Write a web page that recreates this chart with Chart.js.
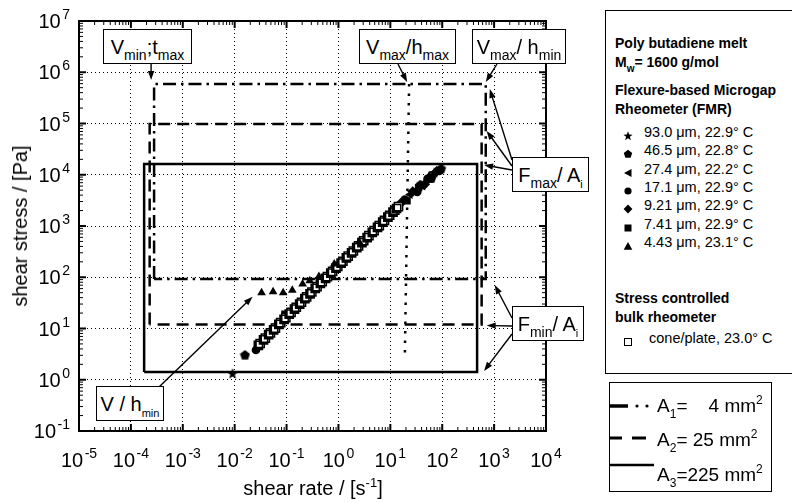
<!DOCTYPE html>
<html>
<head>
<meta charset="utf-8">
<script src="https://cdn.jsdelivr.net/npm/chart.js@4.4.1/dist/chart.umd.min.js"></script>
<style>
  body { margin: 0; background: #fff; }
  #wrap { position: relative; width: 792px; height: 503px; overflow: hidden;
          font-family: "Liberation Sans", Arial, Helvetica, sans-serif; color: #000; }
  #plot { position: absolute; left: 0; top: 0; }
  .abs { position: absolute; white-space: nowrap; line-height: 1; }
  .box { position: absolute; border: 1.5px solid #000; background: #fff; box-sizing: border-box;
         font-size: 20px; line-height: 1; white-space: nowrap; text-align: center; }
  .box .in { position: absolute; left: 0; right: 0; top: 7px; }
  .s { font-size: 14px; position: relative; top: 6px; }
  .ss { font-size: 11px; position: relative; top: 6px; }
  .sp { font-size: 12px; position: relative; top: -8px; }
  #leg1 { position: absolute; left: 605px; top: 10px; width: 210px; height: 364px;
          border: 1px solid #000; box-sizing: border-box; background: #fff; }
  #leg1 .h { font-weight: bold; font-size: 14px; }
  #leg1 .e { font-size: 14.5px; }
  #leg2 { position: absolute; left: 609px; top: 382px; width: 163px; height: 110px;
          border: 1.5px solid #000; box-sizing: border-box; background: #fff; }
  #leg2 .t { font-size: 19px; }
</style>
</head>
<body>
<div id="wrap">
  <canvas id="plot" width="792" height="503"></canvas>

  <!-- axis titles -->
  <div class="abs" style="left:20px; top:226px; font-size:20px; transform: translate(-50%,-50%) rotate(-90deg);">shear stress / [Pa]</div>
  <div class="abs" style="left:313px; top:488px; font-size:20px; transform: translate(-50%,-50%);">shear rate / [s<span class="sp" style="font-size:13px;top:-8px;">-1</span>]</div>

  <!-- operating-window labels -->
  <div class="box" style="left:103px; top:29px; width:89px; height:35px;"><div class="in">V<span class="s">min</span>;t<span class="s">max</span></div></div>
  <div class="box" style="left:359px; top:29px; width:97px; height:35px;"><div class="in">V<span class="s">max</span>/h<span class="s">max</span></div></div>
  <div class="box" style="left:472px; top:29px; width:94px; height:35px;"><div class="in">V<span class="s">max</span>/ h<span class="s">min</span></div></div>
  <div class="box" style="left:512px; top:157px; width:77px; height:35px;"><div class="in">F<span class="s">max</span>/ A<span class="ss">i</span></div></div>
  <div class="box" style="left:512px; top:306px; width:72px; height:35px;"><div class="in">F<span class="s">min</span>/ A<span class="ss">i</span></div></div>
  <div class="box" style="left:96px; top:386px; width:68px; height:35px;"><div class="in">V / h<span class="ss">min</span></div></div>

  <!-- sample legend -->
  <div id="leg1">
    <div class="abs h" style="left:9px; top:25px;">Poly butadiene melt</div>
    <div class="abs h" style="left:9px; top:44px;">M<span style="font-size:10px;position:relative;top:5px;">w</span>= 1600 g/mol</div>
    <div class="abs h" style="left:9px; top:72px;">Flexure-based Microgap</div>
    <div class="abs h" style="left:9px; top:91px;">Rheometer (FMR)</div>
    <div id="entries"></div>
    <div class="abs h" style="left:9px; top:280px;">Stress controlled</div>
    <div class="abs h" style="left:9px; top:299px;">bulk rheometer</div>
  </div>

  <!-- gap-area legend -->
  <div id="leg2">
    <svg class="abs" style="left:0; top:18px;" width="48" height="10">
      <line x1="0" y1="5" x2="18" y2="5" stroke="#000" stroke-width="3.5"/>
      <circle cx="27" cy="5" r="1.6" fill="#000"/><circle cx="37" cy="5" r="1.6" fill="#000"/>
    </svg>
    <div class="abs t" style="left:47px; top:13px;">A<span class="ss" style="font-size:12px;">1</span>=&nbsp;&nbsp;&nbsp; 4 mm<span class="sp">2</span></div>
    <svg class="abs" style="left:0; top:50px;" width="48" height="10">
      <line x1="0" y1="5" x2="12" y2="5" stroke="#000" stroke-width="3"/>
      <line x1="22" y1="5" x2="36" y2="5" stroke="#000" stroke-width="3"/>
    </svg>
    <div class="abs t" style="left:47px; top:47px;">A<span class="ss" style="font-size:12px;">2</span>= 25 mm<span class="sp">2</span></div>
    <svg class="abs" style="left:0; top:77px;" width="48" height="10">
      <line x1="0" y1="5" x2="44" y2="5" stroke="#000" stroke-width="2.5"/>
    </svg>
    <div class="abs t" style="left:47px; top:82px;">A<span class="ss" style="font-size:12px;">3</span>=225 mm<span class="sp">2</span></div>
  </div>
</div>

<script>
// ---------- axis decades ----------
const rateDecades = [-5, -4, -3, -2, -1, 0, 1, 2, 3, 4];
const stressDecades = [-1, 0, 1, 2, 3, 4, 5, 6, 7];

// ---------- operating windows for the three plate areas A1, A2, A3 ----------
const windowMinRate   = [2.8e-4, 2.3e-4, 1.8e-4];
const windowMaxRate   = [690, 575, 470];
const windowMinStress = [92, 12, 1.42];
const windowMaxStress = [5.9e5, 9.8e4, 1.62e4];

// V_max / h_max limit (dotted)
const vmaxLimitRate   = [23, 19];
const vmaxLimitStress = [5.9e5, 2.6];

// ---------- FMR measurements (gap, temperature) ----------
const rate93  = [0.0091, 70];
const stress93 = [1.3, 10800];
const rate46  = [0.0158, 38, 62, 95];
const stress46 = [3.0, 6300, 8600, 13000];
const rate27  = [24, 42, 72];
const stress27 = [4100, 6000, 11200];
const rate17  = [0.0257, 19, 33, 52, 88];
const stress17 = [3.8, 3300, 4600, 8300, 11800];
const rate9   = [0.10, 16, 27, 46, 78];
const stress9 = [17, 2800, 4700, 6500, 11600];
const rate7   = [0.069, 0.093, 15, 21, 35, 58];
const stress7 = [11.7, 19, 2400, 3100, 5600, 8200];
const rate4   = [0.033, 0.055, 0.086, 0.129, 0.204, 0.28, 0.42, 0.83, 2.5, 56];
const stress4 = [50, 52, 50, 56, 74, 85, 103, 181, 494, 9460];

// ---------- cone/plate, stress-controlled bulk rheometer ----------
const rateCP = [0.031, 0.039, 0.049, 0.061, 0.077, 0.097, 0.122, 0.154, 0.194, 0.244, 0.307, 0.387, 0.487, 0.613,
                0.772, 0.972, 1.22, 1.54, 1.94, 2.44, 3.07, 3.87, 4.87, 6.13, 7.72, 9.72, 12.2, 14.3];
const stressCP = [5.1, 6.5, 8.2, 10.2, 13.0, 16.3, 20.6, 26.0, 32.5, 41.4, 51.5, 65.8, 82.0, 103,
                  130, 163, 205, 258, 325, 409, 515, 646, 812, 1020, 1290, 1620, 2030, 2380];

const legendEntries = [
  ['star',     '93.0 μm, 22.9° C'],
  ['pentagon', '46.5 μm, 22.8° C'],
  ['ltri',     '27.4 μm, 22.2° C'],
  ['circle',   '17.1 μm, 22.9° C'],
  ['diamond',  '9.21 μm, 22.9° C'],
  ['square',   '7.41 μm, 22.9° C'],
  ['triangle', '4.43 μm, 23.1° C']
];

// ---------- marker images ----------
function polyCanvas(size, n, rOut, rIn, rot) {
  const c = document.createElement('canvas');
  c.width = c.height = size;
  const g = c.getContext('2d');
  const m = size / 2;
  g.fillStyle = '#000';
  g.beginPath();
  const k = rIn ? 2 * n : n;
  for (let i = 0; i < k; i++) {
    const r = rIn && i % 2 ? rIn : rOut;
    const a = rot + i * 2 * Math.PI / k;
    const px = m + r * Math.cos(a), py = m + r * Math.sin(a);
    i ? g.lineTo(px, py) : g.moveTo(px, py);
  }
  g.closePath();
  g.fill();
  return c;
}
const starImg = polyCanvas(12, 5, 5.8, 2.4, -Math.PI / 2);
const pentImg = polyCanvas(11, 5, 5.2, 0, -Math.PI / 2);

function pts(xs, ys) { return xs.map((x, i) => ({ x: x, y: ys[i] })); }
function windowPath(i) {
  return [
    { x: windowMinRate[i], y: windowMinStress[i] },
    { x: windowMinRate[i], y: windowMaxStress[i] },
    { x: windowMaxRate[i], y: windowMaxStress[i] },
    { x: windowMaxRate[i], y: windowMinStress[i] },
    { x: windowMinRate[i], y: windowMinStress[i] }
  ];
}
function filled(data, style, r, extra) {
  return Object.assign({ type: 'scatter', data: data, pointStyle: style, pointRadius: r,
    backgroundColor: '#000', borderColor: '#000', borderWidth: 0 }, extra || {});
}
function boundary(data, dash, width) {
  return { type: 'line', data: data, showLine: true, fill: false, pointRadius: 0, borderColor: '#000',
    borderWidth: width, borderDash: dash, tension: 0, borderCapStyle: 'butt', order: 10 };
}

const datasets = [
  Object.assign(filled(pts(rateCP, stressCP), 'rect', 5.8), { backgroundColor: '#fff', borderWidth: 1.5, order: 1 }),
  filled(pts(rate93, stress93), starImg, 6, { order: 2 }),
  filled(pts(rate46, stress46), pentImg, 6, { order: 2 }),
  filled(pts(rate27, stress27), 'triangle', 5, { rotation: -90, order: 2 }),
  filled(pts(rate17, stress17), 'circle', 4.3, { order: 2 }),
  filled(pts(rate9, stress9), 'rectRot', 5.4, { order: 2 }),
  filled(pts(rate7, stress7), 'rect', 5.2, { order: 2 }),
  filled(pts(rate4, stress4), 'triangle', 5, { order: 0 }),
  boundary(windowPath(0), [13, 5, 2.5, 5], 2.5),
  boundary(windowPath(1), [12, 7], 2.5),
  boundary(windowPath(2), [], 2.5),
  boundary(pts(vmaxLimitRate, vmaxLimitStress), [2.5, 7], 2.5)
];

// ---------- drawing helpers ----------
function arrow(ctx, x0, y0, x1, y1) {
  const a = Math.atan2(y1 - y0, x1 - x0), L = 9, W = 3.2;
  ctx.beginPath();
  ctx.moveTo(x0, y0);
  ctx.lineTo(x1 - 0.8 * L * Math.cos(a), y1 - 0.8 * L * Math.sin(a));
  ctx.stroke();
  ctx.beginPath();
  ctx.moveTo(x1, y1);
  ctx.lineTo(x1 - L * Math.cos(a) + W * Math.sin(a), y1 - L * Math.sin(a) - W * Math.cos(a));
  ctx.lineTo(x1 - L * Math.cos(a) - W * Math.sin(a), y1 - L * Math.sin(a) + W * Math.cos(a));
  ctx.closePath();
  ctx.fill();
}
function powerLabel(ctx, exp, x, y, align) {
  const big = '20px "Liberation Sans", Arial, sans-serif';
  const small = '14px "Liberation Sans", Arial, sans-serif';
  ctx.font = big;
  const w1 = ctx.measureText('10').width;
  ctx.font = small;
  const e = String(exp);
  const w2 = ctx.measureText(e).width;
  const total = w1 + 1.5 + w2;
  const x0 = align === 'right' ? x - total : x - total / 2;
  ctx.textAlign = 'left';
  ctx.textBaseline = 'alphabetic';
  ctx.font = big;
  ctx.fillText('10', x0, y);
  ctx.font = small;
  ctx.fillText(e, x0 + w1 + 1.5, y - 9);
}

// dark offset edge under the open cone/plate squares
const squareShadow = {
  id: 'squareShadow',
  beforeDatasetDraw(chart, args) {
    if (args.index !== 0) return;
    const ctx = chart.ctx;
    ctx.save();
    ctx.shadowColor = '#000';
    ctx.shadowOffsetX = -1.8;
    ctx.shadowOffsetY = 1.8;
    ctx.shadowBlur = 0;
  },
  afterDatasetDraw(chart, args) {
    if (args.index !== 0) return;
    chart.ctx.restore();
  }
};

const framePlugin = {
  id: 'frame',
  afterDraw(chart) {
    const { ctx, chartArea: a, scales: { x, y } } = chart;
    ctx.save();
    ctx.strokeStyle = '#000';
    ctx.fillStyle = '#000';
    ctx.setLineDash([]);
    // box
    ctx.lineWidth = 2;
    ctx.strokeRect(a.left, a.top, a.right - a.left, a.bottom - a.top);
    // inward ticks on all four sides
    const drawX = (v, len, w) => {
      const p = x.getPixelForValue(v);
      ctx.lineWidth = w;
      ctx.beginPath();
      ctx.moveTo(p, a.bottom); ctx.lineTo(p, a.bottom - len);
      ctx.moveTo(p, a.top); ctx.lineTo(p, a.top + len);
      ctx.stroke();
    };
    const drawY = (v, len, w) => {
      const p = y.getPixelForValue(v);
      ctx.lineWidth = w;
      ctx.beginPath();
      ctx.moveTo(a.left, p); ctx.lineTo(a.left + len, p);
      ctx.moveTo(a.right, p); ctx.lineTo(a.right - len, p);
      ctx.stroke();
    };
    rateDecades.forEach((e, i) => {
      drawX(Math.pow(10, e), 7, 2);
      if (i < rateDecades.length - 1) for (let m = 2; m < 10; m++) drawX(m * Math.pow(10, e), 4, 1);
    });
    stressDecades.forEach((e, i) => {
      drawY(Math.pow(10, e), 7, 2);
      if (i < stressDecades.length - 1) for (let m = 2; m < 10; m++) drawY(m * Math.pow(10, e), 4, 1);
    });
    // tick labels
    rateDecades.forEach(e => powerLabel(ctx, e, x.getPixelForValue(Math.pow(10, e)), a.bottom + 36, 'center'));
    stressDecades.forEach(e => powerLabel(ctx, e, a.left - 9, y.getPixelForValue(Math.pow(10, e)) + 7, 'right'));

    // annotation arrows
    ctx.lineWidth = 1.4;
    const px = (r, s) => [x.getPixelForValue(r), y.getPixelForValue(s)];
    let t;
    t = px(windowMinRate[0], windowMaxStress[0]);  arrow(ctx, t[0] - 3, 64, t[0] - 3, t[1] - 4);
    t = px(vmaxLimitRate[0], vmaxLimitStress[0]);  arrow(ctx, 398, 64, t[0] - 2, t[1] - 2);
    t = px(windowMaxRate[0], windowMaxStress[0]);  arrow(ctx, 497, 64, t[0], t[1] - 2);
    t = px(windowMaxRate[0], windowMaxStress[0]);  arrow(ctx, 512, 160, t[0] + 4, t[1] + 5);
    t = px(windowMaxRate[1], windowMaxStress[1]);  arrow(ctx, 512, 166, t[0] + 5, t[1] + 7);
    t = px(windowMaxRate[2], windowMaxStress[2]);  arrow(ctx, 512, 170, t[0] + 7, t[1] + 1);
    t = px(windowMaxRate[0], windowMinStress[0]);  arrow(ctx, 512, 318, t[0] + 9, t[1] + 6);
    t = px(windowMaxRate[1], windowMinStress[1]);  arrow(ctx, 512, 326, t[0] + 5, t[1] + 1);
    t = px(windowMaxRate[2], windowMinStress[2]);  arrow(ctx, 512, 334, t[0] + 7, t[1] - 1);
    t = px(rate4[0], stress4[0]);                  arrow(ctx, 159, 387, t[0] - 9, t[1] + 4);
    ctx.restore();
  }
};

const decadeTicks = ds => ds.map(e => ({ value: Math.pow(10, e) }));
const gridOpts = { color: '#000', lineWidth: 1, drawTicks: false };

new Chart(document.getElementById('plot'), {
  type: 'scatter',
  data: { datasets: datasets },
  options: {
    responsive: false,
    animation: false,
    layout: { padding: { left: 79, top: 21, right: 246, bottom: 72 } },
    plugins: { legend: { display: false }, tooltip: { enabled: false } },
    scales: {
      x: { type: 'logarithmic', min: 1e-5, max: 1e4,
           afterBuildTicks: s => { s.ticks = decadeTicks(rateDecades); },
           ticks: { display: false }, grid: gridOpts, border: { display: false, dash: [1, 3] } },
      y: { type: 'logarithmic', min: 1e-1, max: 1e7,
           afterBuildTicks: s => { s.ticks = decadeTicks(stressDecades); },
           ticks: { display: false }, grid: gridOpts, border: { display: false, dash: [1, 3] } }
    }
  },
  plugins: [squareShadow, framePlugin]
});

// ---------- sample legend symbols ----------
function legendSymbol(kind) {
  const shapes = {
    star: '<polygon points="5,0.3 6.2,3.6 9.6,3.7 6.9,5.8 7.9,9.2 5,7.2 2.1,9.2 3.1,5.8 0.4,3.7 3.8,3.6" fill="#000"/>',
    pentagon: '<polygon points="5,0.8 9.2,3.9 7.6,8.8 2.4,8.8 0.8,3.9" fill="#000"/>',
    ltri: '<polygon points="1,5 8.5,1 8.5,9" fill="#000"/>',
    circle: '<circle cx="5" cy="5" r="3.6" fill="#000"/>',
    diamond: '<polygon points="5,0.6 9.4,5 5,9.4 0.6,5" fill="#000"/>',
    square: '<rect x="1.5" y="1.5" width="7" height="7" fill="#000"/>',
    triangle: '<polygon points="5,1 9.3,8.8 0.7,8.8" fill="#000"/>',
    open: '<rect x="1.5" y="1.5" width="7" height="7" fill="#fff" stroke="#000" stroke-width="1"/>'
  };
  return '<svg width="10" height="10" viewBox="0 0 10 10">' + shapes[kind] + '</svg>';
}
const box = document.getElementById('entries');
let html = '';
legendEntries.forEach((en, i) => {
  const top = 114 + i * 18.3;
  html += '<div class="abs" style="left:17px; top:' + (top + 3) + 'px;">' + legendSymbol(en[0]) + '</div>';
  html += '<div class="abs e" style="left:38px; top:' + top + 'px;">' + en[1] + '</div>';
});
html += '<div class="abs" style="left:17px; top:' + (320 + 3) + 'px;">' + legendSymbol('open') + '</div>';
html += '<div class="abs e" style="left:43px; top:320px;">cone/plate, 23.0° C</div>';
box.innerHTML = html;
</script>
</body>
</html>
